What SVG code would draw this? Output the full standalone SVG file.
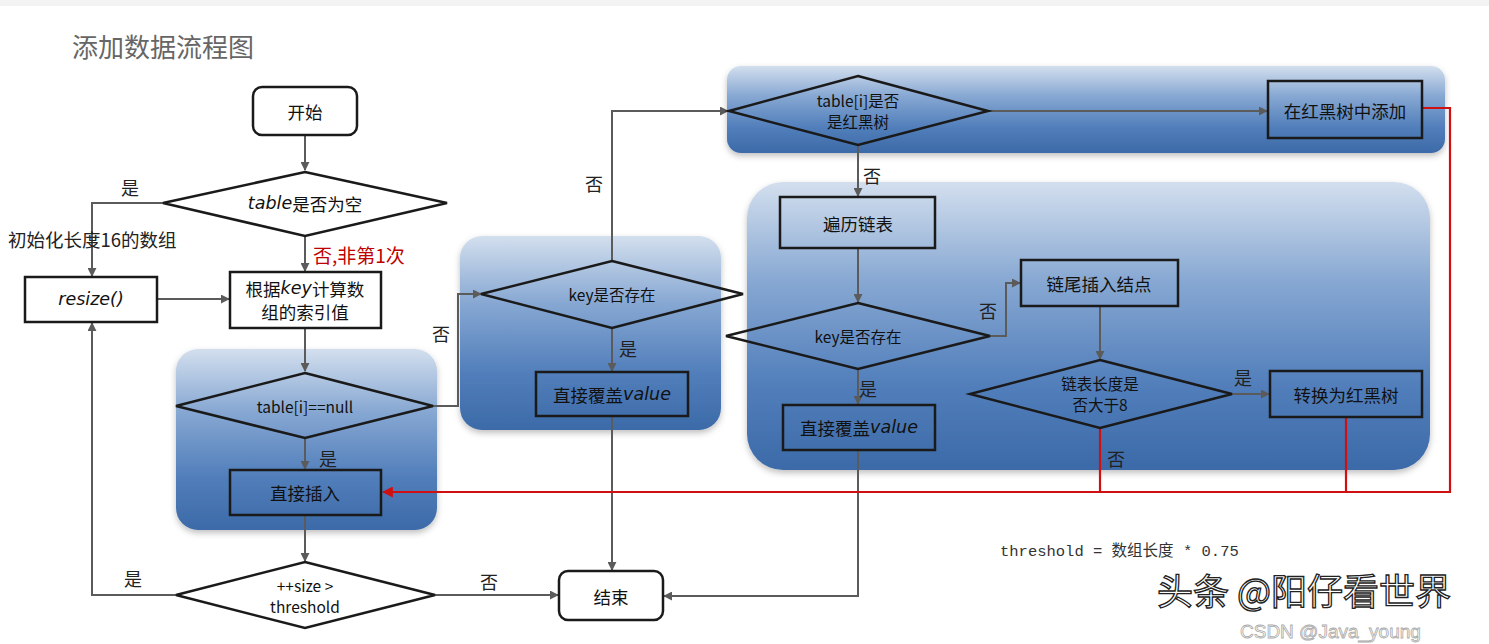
<svg xmlns="http://www.w3.org/2000/svg" width="1489" height="644" viewBox="0 0 1489 644">
<defs>
<linearGradient id="blue" x1="0" y1="0" x2="0" y2="1">
<stop offset="0" stop-color="#d3dfee"/>
<stop offset="0.35" stop-color="#86a7d2"/>
<stop offset="0.7" stop-color="#527fbb"/>
<stop offset="1" stop-color="#3c6aa8"/>
</linearGradient>
<filter id="sh" x="-5%" y="-5%" width="110%" height="115%">
<feDropShadow dx="0" dy="3" stdDeviation="3" flood-color="#000" flood-opacity="0.25"/>
</filter>
<marker id="ag" viewBox="0 0 10 10" refX="9" refY="5" markerWidth="9" markerHeight="9" markerUnits="userSpaceOnUse" orient="auto">
<path d="M0,0 L10,5 L0,10 z" fill="#5b5b5b"/>
</marker>
<marker id="ar" viewBox="0 0 10 10" refX="9" refY="5" markerWidth="11" markerHeight="11" markerUnits="userSpaceOnUse" orient="auto">
<path d="M0,0 L10,5 L0,10 z" fill="#d01010"/>
</marker>
</defs>
<style>
.t{font-family:"Noto Sans CJK SC","Noto Sans",sans-serif;font-size:17.5px;fill:#111;text-anchor:middle;dominant-baseline:central}
.s{font-family:"Noto Sans CJK SC","Noto Sans",sans-serif;font-size:15.5px;fill:#111;text-anchor:middle;dominant-baseline:central}
.lb{font-family:"Noto Sans CJK SC",sans-serif;font-size:18px;fill:#222;text-anchor:middle;dominant-baseline:central}
.it{font-family:"DejaVu Sans","Liberation Sans",sans-serif;font-style:italic}
.node{stroke:#1a1a1a;stroke-width:2.5}
.w{fill:#fff}
.tr{fill:none}
.grp{fill:url(#blue)}
.c{fill:none;stroke:#5b5b5b;stroke-width:2}
.r{fill:none;stroke:#d01010;stroke-width:2.2}
</style>
<rect x="0" y="0" width="1489" height="644" fill="#fff"/>
<rect x="0" y="0" width="1489" height="6" fill="#f3f3f3"/>
<text x="72" y="57" font-family="Noto Sans CJK SC,sans-serif" font-size="26" fill="#666">添加数据流程图</text>

<g id="groups">
<rect x="176" y="349" width="261" height="181" rx="22" class="grp" filter="url(#sh)"/>
<rect x="460" y="236" width="261" height="194" rx="22" class="grp" filter="url(#sh)"/>
<rect x="727" y="66" width="718" height="87" rx="14" class="grp" filter="url(#sh)"/>
<rect x="747" y="182" width="683" height="288" rx="36" class="grp" filter="url(#sh)"/>
</g>

<g id="connectors">
<path class="c" d="M305,135 V170" marker-end="url(#ag)"/>
<path class="c" d="M163,203 H92 V276" marker-end="url(#ag)"/>
<path class="c" d="M305,236 V271" marker-end="url(#ag)"/>
<path class="c" d="M157,299 H229" marker-end="url(#ag)"/>
<path class="c" d="M305,328 V371" marker-end="url(#ag)"/>
<path class="c" d="M305,438 V469" marker-end="url(#ag)"/>
<path class="c" d="M305,515 V561" marker-end="url(#ag)"/>
<path class="c" d="M176,595 H92 V323" marker-end="url(#ag)"/>
<path class="c" d="M435,595 H558" marker-end="url(#ag)"/>
<path class="c" d="M433,406 H458 V294 H481" marker-end="url(#ag)"/>
<path class="c" d="M612,261 V111 H728" marker-end="url(#ag)"/>
<path class="c" d="M612,328 V371" marker-end="url(#ag)"/>
<path class="c" d="M612,416 V570" marker-end="url(#ag)"/>
<path class="c" d="M988,111 H1267" marker-end="url(#ag)"/>
<path class="c" d="M858,145 V196" marker-end="url(#ag)"/>
<path class="c" d="M858,248 V302" marker-end="url(#ag)"/>
<path class="c" d="M990,336 H1006 V283 H1020" marker-end="url(#ag)"/>
<path class="c" d="M1100,306 V359" marker-end="url(#ag)"/>
<path class="c" d="M1232,394 H1269" marker-end="url(#ag)"/>
<path class="c" d="M858,369 V404" marker-end="url(#ag)"/>
<path class="c" d="M858,450 V596 H664" marker-end="url(#ag)"/>
<path class="r" d="M1422,108 H1450 V492 H383" marker-end="url(#ar)"/>
<path class="r" d="M1100,428 V492"/>
<path class="r" d="M1346,417 V492"/>
</g>

<g id="labels">
<text class="lb" x="130" y="187">是</text>
<text x="8" y="239" font-family="Noto Sans CJK SC,sans-serif" font-size="18.5" fill="#222" dominant-baseline="central">初始化长度16的数组</text>
<text x="313" y="254" font-family="Noto Sans CJK SC,sans-serif" font-size="19" fill="#c00000" dominant-baseline="central">否,非第1次</text>
<text class="lb" x="328" y="458">是</text>
<text class="lb" x="133" y="578">是</text>
<text class="lb" x="489" y="581">否</text>
<text class="lb" x="441" y="333">否</text>
<text class="lb" x="594" y="183">否</text>
<text class="lb" x="628" y="348">是</text>
<text class="lb" x="872" y="175">否</text>
<text class="lb" x="988" y="310">否</text>
<text class="lb" x="868" y="388">是</text>
<text class="lb" x="1243" y="377">是</text>
<text class="lb" x="1116" y="458">否</text>
</g>

<g id="start">
<rect x="253" y="87" width="104" height="48" rx="9" class="node w"/>
<text class="t" x="305" y="111">开始</text>
</g>
<g id="tableEmpty">
<polygon points="305,172 447,203 305,236 163,203" class="node w"/>
<text class="t" x="305" y="203"><tspan class="it">table</tspan>是否为空</text>
</g>
<g id="resize">
<rect x="25" y="277" width="132" height="45" class="node w"/>
<text class="t" x="91" y="299"><tspan class="it">resize()</tspan></text>
</g>
<g id="calcIndex">
<rect x="230" y="272" width="151" height="56" class="node w"/>
<text class="t" x="305" y="288">根据<tspan class="it">key</tspan>计算数</text>
<text class="t" x="305" y="311">组的索引值</text>
</g>
<g id="tableNull">
<polygon points="305,373 433,406 305,438 176,406" class="node tr"/>
<text class="s" x="305" y="406">table[i]==null</text>
</g>
<g id="insert">
<rect x="230" y="470" width="151" height="45" class="node tr"/>
<text class="t" x="305" y="492">直接插入</text>
</g>
<g id="sizeCheck">
<polygon points="305,562 435,595 305,628 176,595" class="node w"/>
<text class="s" x="305" y="585">++size &gt;</text>
<text class="s" x="305" y="606">threshold</text>
</g>
<g id="end">
<rect x="559" y="571" width="104" height="49" rx="9" class="node w"/>
<text class="t" x="611" y="596">结束</text>
</g>
<g id="keyExists1">
<polygon points="612,261 743,294 612,328 481,294" class="node tr"/>
<text class="s" x="612" y="294">key是否存在</text>
</g>
<g id="overwrite1">
<rect x="536" y="372" width="152" height="44" class="node tr"/>
<text class="t" x="612" y="394">直接覆盖<tspan class="it">value</tspan></text>
</g>
<g id="isTree">
<polygon points="858,76 988,111 858,145 729,111" class="node tr"/>
<text class="s" x="858" y="100">table[i]是否</text>
<text class="s" x="858" y="121">是红黑树</text>
</g>
<g id="treeAdd">
<rect x="1268" y="81" width="154" height="57" class="node tr"/>
<text class="t" x="1345" y="110">在红黑树中添加</text>
</g>
<g id="traverse">
<rect x="780" y="197" width="155" height="51" class="node tr"/>
<text class="t" x="858" y="223">遍历链表</text>
</g>
<g id="keyExists2">
<polygon points="858,303 990,336 858,369 726,336" class="node tr"/>
<text class="s" x="858" y="336">key是否存在</text>
</g>
<g id="tailInsert">
<rect x="1021" y="260" width="157" height="46" class="node tr"/>
<text class="t" x="1099" y="283">链尾插入结点</text>
</g>
<g id="lenCheck">
<polygon points="1100,360 1232,394 1100,428 970,394" class="node tr"/>
<text class="s" x="1100" y="383">链表长度是</text>
<text class="s" x="1100" y="404">否大于8</text>
</g>
<g id="toTree">
<rect x="1270" y="371" width="152" height="46" class="node tr"/>
<text class="t" x="1346" y="394">转换为红黑树</text>
</g>
<g id="overwrite2">
<rect x="783" y="405" width="152" height="45" class="node tr"/>
<text class="t" x="859" y="427">直接覆盖<tspan class="it">value</tspan></text>
</g>

<text x="1000" y="556" font-family="Liberation Mono,Noto Sans CJK SC,monospace" font-size="15.5" fill="#333">threshold = 数组长度 * 0.75</text>
<text x="1157" y="605" font-family="Noto Sans CJK SC,sans-serif" font-size="36" fill="#fff" stroke="#222" stroke-width="1.3">头条 @阳仔看世界</text>
<text x="1240" y="638" font-family="Liberation Sans,sans-serif" font-size="19" fill="none" stroke="#aaa" stroke-width="0.8">CSDN @Java_young</text>
</svg>
